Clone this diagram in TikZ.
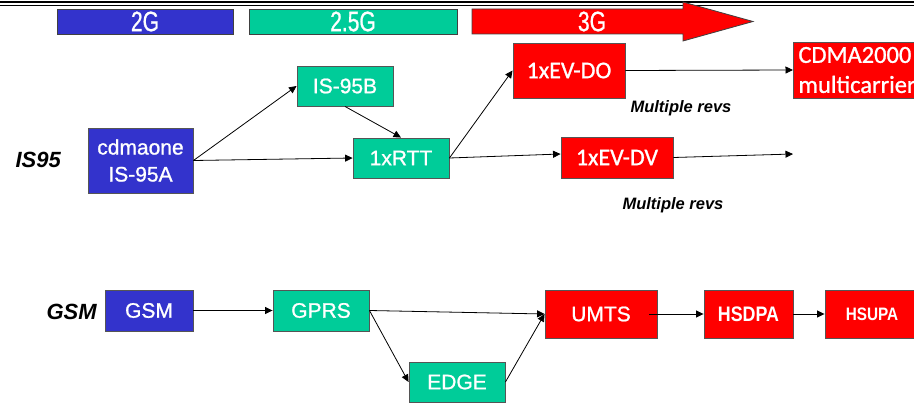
\documentclass[tikz,border=0pt]{standalone}
\usepackage{fontspec}
\setmainfont{Liberation Sans}
\newfontfamily\boxfont[FakeBold=1]{Liberation Sans}
\newfontfamily\carlitofont[FakeBold=1]{Carlito}
\usetikzlibrary{arrows.meta}

\definecolor{gblue}{HTML}{3333CC}
\definecolor{gteal}{HTML}{00CC99}
\definecolor{gred}{HTML}{FF0000}
\definecolor{gedge}{HTML}{555555}

\tikzset{
  box/.style={draw=gedge, line width=0.9pt, text=white, inner sep=0pt,
              font=\boxfont\fontsize{21}{27}\selectfont, align=center},
  blue box/.style={box, fill=gblue},
  teal box/.style={box, fill=gteal},
  red box/.style={box, fill=gred},
  band/.style={draw=black!75, line width=0.8pt, text=white, inner sep=0pt,
               minimum height=25pt, font=\boxfont\fontsize{28}{28}\selectfont},
  link/.style={line width=0.8pt, -{Triangle[length=7.5pt,width=7pt]}},
  rowlabel/.style={font=\bfseries\itshape\fontsize{22}{24}\selectfont, anchor=base west},
  note/.style={font=\bfseries\itshape\fontsize{16.5}{18}\selectfont, anchor=base west}
}

\newcommand{\narrow}[2]{\scalebox{#1}[1]{#2}}

\begin{document}
\begin{tikzpicture}[x=1pt,y=-1pt]
\useasboundingbox (0,0) rectangle (914,404);
\clip (0,0) rectangle (914,404);

% rule at the top of the slide
\draw[line width=2.5pt] (0,2) -- (914,2);
\draw[line width=1pt] (0,5.5) -- (914,5.5);

% generation bands
\node[band, fill=gblue, minimum width=176pt] (g2) at (145,21.5) {\narrow{0.75}{2G}};
\node[band, fill=gteal, minimum width=208pt] (g25) at (353,21.5) {\narrow{0.75}{2.5G}};
\filldraw[fill=gred, draw=black!75, line width=0.8pt]
  (472,9) -- (683,9) -- (683,2) -- (753,21.5) -- (683,41) -- (683,34) -- (472,34) -- cycle;
\node[band, draw=none, minimum height=0pt] (g3) at (592,21.5) {\narrow{0.75}{3G}};

% row labels
\node[rowlabel] (lis) at (12,167) {IS95};
\node[rowlabel] (lgsm) at (43,319) {GSM};

% IS95 family
\node[blue box, minimum width=105pt, minimum height=65pt] (is95a) at (140.5,160.5) {cdmaone\\IS-95A};
\node[teal box, minimum width=96pt, minimum height=40pt] (is95b) at (345,86) {IS-95B};
\node[teal box, minimum width=96pt, minimum height=40pt] (rtt) at (401,158) {1xRTT};
\node[red box, minimum width=112pt, minimum height=55pt,
      font=\carlitofont\fontsize{24}{26}\selectfont] (evdo) at (569,70.5) {1xEV-DO};
\node[red box, minimum width=112pt, minimum height=41pt,
      font=\carlitofont\fontsize{24}{26}\selectfont] (evdv) at (617,157.5) {1xEV-DV};
\node[red box, anchor=west, minimum height=56pt, text width=140pt, align=left,
      inner xsep=5pt, font=\carlitofont\fontsize{24.5}{30}\selectfont] (cdma) at (793,70)
  {CDMA2000\\multicarrier};
\coordinate (dvnext) at (793,154);

\node[note] (rev1) at (627,113) {Multiple revs};
\node[note] (rev2) at (619,209) {Multiple revs};

% GSM family
\node[blue box, minimum width=88pt, minimum height=41pt] (gsm) at (149,310.5) {GSM};
\node[teal box, minimum width=96pt, minimum height=41pt] (gprs) at (321,310.5) {GPRS};
\node[teal box, minimum width=96pt, minimum height=40pt] (edge) at (457,382) {EDGE};
\node[red box, minimum width=112pt, minimum height=48pt] (umts) at (601,314) {UMTS};
\node[red box, minimum width=89pt, minimum height=48pt,
      font=\bfseries\fontsize{21}{24}\selectfont] (hsdpa) at (748.5,314) {\narrow{0.85}{HSDPA}};
\node[red box, minimum width=94pt, minimum height=48pt,
      font=\bfseries\fontsize{18}{22}\selectfont] (hsupa) at (872,314) {\narrow{0.85}{HSUPA}};

% evolution paths
\draw[link] (is95a.east) -- (is95b.west);
\draw[link] (is95a.east) -- (rtt.west);
\draw[link] (is95b.south) -- (rtt.north);
\draw[link] (rtt.east) -- (evdo.west);
\draw[link] (rtt.east) -- ([yshift=3.5pt]evdv.west);
\draw[link] (evdo.east) -- (cdma.west);
\draw[link] (evdv.east) -- (dvnext);

\draw[link] (gsm.east) -- (gprs.west);
\draw[link] (gprs.east) -- (umts.west);
\draw[link] (gprs.east) -- (edge.west);
\draw[link] (edge.east) -- (umts.west);
\draw[link] ([xshift=-8pt]umts.east) -- (hsdpa.west);
\draw[link] (hsdpa.east) -- (hsupa.west);
\end{tikzpicture}
\end{document}
